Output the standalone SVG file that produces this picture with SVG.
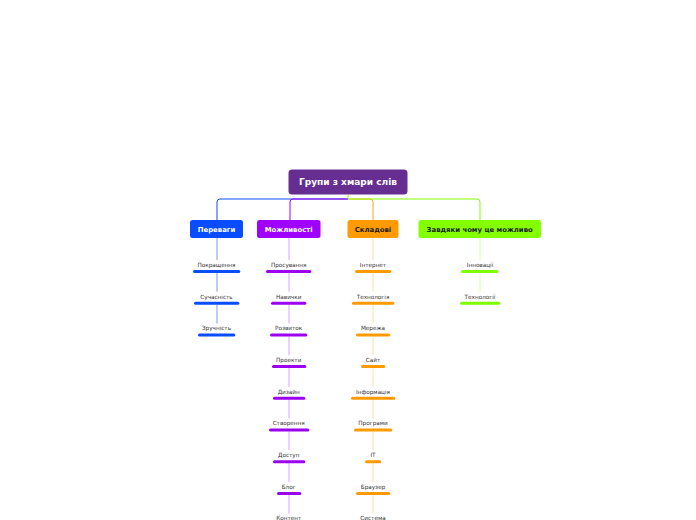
<svg xmlns="http://www.w3.org/2000/svg" width="696" height="520" viewBox="0 0 696 520">
<style>
.root{fill:#672e91}
.rt{font-family:"DejaVu Sans",Verdana,sans-serif;font-weight:bold;font-size:9px;fill:#fff;text-anchor:middle}
.ct{font-family:"DejaVu Sans",Verdana,sans-serif;font-weight:bold;font-size:6.9px;text-anchor:middle}
.lt{font-family:"DejaVu Sans",Verdana,sans-serif;font-size:5.7px;fill:#333;text-anchor:middle}
.ul{stroke-width:3;stroke-linecap:round;fill:none}
.con{fill:none;stroke-width:1}
.blue{stroke:#0a4cff}.purple{stroke:#9c00f0}.orange{stroke:#ff9b00}.green{stroke:#80ff00}
</style>
<rect width="696" height="520" fill="#fff"/>
<g id="connectors">
<path class="con" stroke="#0a4cff" d="M348,199 H220 Q217,199 217,202 V220"/>
<path class="con" stroke="#a000ff" d="M348,199 H293 Q290,199 290,202 V220"/>
<path class="con" stroke="#ffa21a" d="M348,199 H370 Q373,199 373,202 V220"/>
<path class="con" stroke="#84ff00" d="M348,194.5 V199 H477 Q480,199 480,202 V220"/>
<path class="con" stroke="#759bff" d="M217,238 V260 M217,273 V291.7 M217,304.7 V323.4"/>
<path class="con" stroke="#d8a0ff" d="M289,238 V260 M289,273 V291.7 M289,304.7 V323.4 M289,336.4 V355.1 M289,368.1 V386.8 M289,399.8 V418.5 M289,431.5 V450.2 M289,463.2 V481.9 M289,494.9 V513.6"/>
<path class="con" stroke="#ffdcaa" d="M373,238 V260 M373,273 V291.7 M373,304.7 V323.4 M373,336.4 V355.1 M373,368.1 V386.8 M373,399.8 V418.5 M373,431.5 V450.2 M373,463.2 V481.9 M373,494.9 V513.6"/>
<path class="con" stroke="#d6ffad" d="M480,238 V260 M480,273 V291.7"/>
</g>
<g id="root">
<rect class="root" x="288.5" y="169.5" width="119" height="25" rx="3.5"/>
<text class="rt" x="348" y="185.4">Групи з хмари слів</text>
</g>
<g id="n-perevahy">
<rect x="190" y="220" width="53" height="18" rx="2.5" fill="#0a4cff"/>
<text class="ct" x="216.5" y="231.5" fill="#fff">Переваги</text>
</g>
<g id="n-mozhlyvosti">
<rect x="257" y="220" width="63.5" height="18" rx="2.5" fill="#a000ff"/>
<text class="ct" x="288.7" y="231.5" fill="#fff">Можливості</text>
</g>
<g id="n-skladovi">
<rect x="347.5" y="220" width="51" height="18" rx="2.5" fill="#ff9b00"/>
<text class="ct" x="373" y="231.5" fill="#1a1a1a">Складові</text>
</g>
<g id="n-zavdiaky">
<rect x="418.5" y="220" width="122.5" height="18" rx="2.5" fill="#84ff00"/>
<text class="ct" x="479.7" y="231.5" fill="#1a1a1a">Завдяки чому це можливо</text>
</g>
<g id="l-blue">
<g id="l-pokrashchennia"><text class="lt" x="216.5" y="266.8">Покращення</text><path class="ul blue" d="M194.5,271.5 H238.8"/></g>
<g id="l-suchasnist"><text class="lt" x="216.5" y="298.5">Сучасність</text><path class="ul blue" d="M195.5,303.2 H237.8"/></g>
<g id="l-zruchnist"><text class="lt" x="216.5" y="330.2">Зручність</text><path class="ul blue" d="M199.5,334.9 H233.8"/></g>
</g>
<g id="l-purple">
<g id="l-prosuvannia"><text class="lt" x="288.7" y="266.8">Просування</text><path class="ul purple" d="M267.5,271.5 H309.8"/></g>
<g id="l-navychky"><text class="lt" x="288.7" y="298.5">Навички</text><path class="ul purple" d="M272.5,303.2 H304.8"/></g>
<g id="l-rozvytok"><text class="lt" x="288.7" y="330.2">Розвиток</text><path class="ul purple" d="M271.5,334.9 H305.8"/></g>
<g id="l-proekty"><text class="lt" x="288.7" y="361.9">Проекти</text><path class="ul purple" d="M273.5,366.6 H304.8"/></g>
<g id="l-dyzain"><text class="lt" x="288.7" y="393.6">Дизайн</text><path class="ul purple" d="M274.5,398.3 H303.8"/></g>
<g id="l-stvorennia"><text class="lt" x="288.7" y="425.3">Створення</text><path class="ul purple" d="M270.5,430 H307.8"/></g>
<g id="l-dostup"><text class="lt" x="288.7" y="457">Доступ</text><path class="ul purple" d="M274.5,461.7 H303.8"/></g>
<g id="l-blog"><text class="lt" x="288.7" y="488.7">Блог</text><path class="ul purple" d="M278.5,493.4 H299.8"/></g>
<g id="l-kontent"><text class="lt" x="288.7" y="520.4">Контент</text></g>
</g>
<g id="l-orange">
<g id="l-internet"><text class="lt" x="373" y="266.8">Інтернет</text><path class="ul orange" d="M356.5,271.5 H389.8"/></g>
<g id="l-tekhnolohiia"><text class="lt" x="373" y="298.5">Технологія</text><path class="ul orange" d="M353.5,303.2 H392.8"/></g>
<g id="l-merezha"><text class="lt" x="373" y="330.2">Мережа</text><path class="ul orange" d="M357.5,334.9 H388.8"/></g>
<g id="l-sait"><text class="lt" x="373" y="361.9">Сайт</text><path class="ul orange" d="M362.5,366.6 H383.8"/></g>
<g id="l-informatsiia"><text class="lt" x="373" y="393.6">Інформація</text><path class="ul orange" d="M352.5,398.3 H393.8"/></g>
<g id="l-prohramy"><text class="lt" x="373" y="425.3">Програми</text><path class="ul orange" d="M355.5,430 H390.8"/></g>
<g id="l-it"><text class="lt" x="373" y="457">IT</text><path class="ul orange" d="M366.5,461.7 H379.8"/></g>
<g id="l-brauzer"><text class="lt" x="373" y="488.7">Браузер</text><path class="ul orange" d="M357.5,493.4 H388.8"/></g>
<g id="l-systema"><text class="lt" x="373" y="520.4">Система</text></g>
</g>
<g id="l-green">
<g id="l-innovatsii"><text class="lt" x="480" y="266.8">Інновації</text><path class="ul green" d="M462.5,271.5 H496.8"/></g>
<g id="l-tekhnolohii"><text class="lt" x="480" y="298.5">Технології</text><path class="ul green" d="M461.5,303.2 H498.8"/></g>
</g>
</svg>
